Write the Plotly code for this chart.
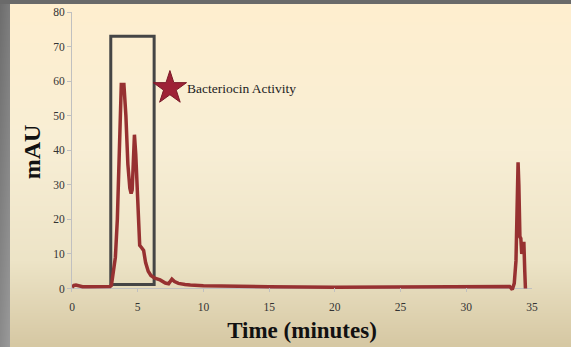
import base64, zlib, struct
import numpy as np
import plotly.graph_objects as go

# ---------------- data ----------------
time_min = [0.0, 0.15, 0.3, 0.5, 0.8, 1.2, 1.6, 2.0, 2.5, 2.9, 3.0, 3.1, 3.2, 3.3, 3.45, 3.6,
            3.75, 3.95, 4.1, 4.25, 4.4, 4.5, 4.58, 4.66, 4.75, 4.85, 4.95, 5.05, 5.15, 5.3,
            5.45, 5.6, 5.8, 6.0, 6.3, 6.7, 7.1, 7.35, 7.6, 7.8, 8.1, 8.6, 9.0, 10.0, 12.0,
            15.0, 20.0, 25.0, 30.0, 33.0, 33.3, 33.5, 33.65, 33.78, 33.88, 33.94, 34.0,
            34.08, 34.15, 34.22, 34.3, 34.38, 34.45, 34.5]
mau = [0.4, 0.9, 1.0, 0.7, 0.5, 0.5, 0.5, 0.4, 0.5, 0.6, 0.9, 3.5, 6.5, 9.0, 20.0, 40.0,
       59.0, 59.0, 50.0, 36.0, 29.0, 27.5, 28.5, 36.0, 44.5, 39.0, 28.0, 18.0, 12.5, 11.8,
       11.0, 7.5, 5.0, 3.8, 3.0, 2.5, 1.6, 1.4, 2.7, 2.0, 1.5, 1.2, 1.0, 0.8, 0.6,
       0.5, 0.4, 0.4, 0.4, 0.5, 0.6, -0.3, 1.5, 8.0, 25.0, 36.5, 30.0,
       15.0, 14.5, 10.0, 12.0, 13.5, 5.0, 0.0]

x_ticks = [0, 5, 10, 15, 20, 25, 30, 35]
y_ticks = [0, 10, 20, 30, 40, 50, 60, 70, 80]

box_time = [2.95, 6.25]      # highlighted fraction (minutes)
box_mau = [1.2, 73.0]
star_time = [7.45]
star_mau = [58.0]
star_label = "Bacteriocin Activity"

# ---------------- background image ----------------
W, H = 571, 347
stops_y = [0, 150, 260, 346]
stops_c = [(255, 239, 207), (248, 238, 213), (237, 228, 199), (214, 200, 163)]
img = np.zeros((H, W, 3), dtype=float)
for ch in range(3):
    col = np.interp(np.arange(H), stops_y, [c[ch] for c in stops_c])
    img[:, :, ch] = col[:, None]
img[:4, :, :] = 106
xs = np.arange(10)[None, :]
left = 110 + (np.arange(H)[:, None] / H) * 30 + xs * 1.5
img[:, :10, :] = left[:, :, None]
img[:4, :10, :] = 106
img = np.clip(img, 0, 255).astype(np.uint8)

raw = b"".join(b"\x00" + img[r].tobytes() for r in range(H))
def chunk(t, d):
    c = struct.pack(">I", len(d)) + t + d
    return c + struct.pack(">I", zlib.crc32(t + d) & 0xffffffff)
png = b"\x89PNG\r\n\x1a\n" + chunk(b"IHDR", struct.pack(">IIBBBBB", W, H, 8, 2, 0, 0, 0)) \
      + chunk(b"IDAT", zlib.compress(raw, 9)) + chunk(b"IEND", b"")
bg_src = "data:image/png;base64," + base64.b64encode(png).decode()

# ---------------- figure ----------------
L, R, T, B = 72, 39, 12, 55
pw, ph = W - L - R, H - T - B

fig = go.Figure()
fig.add_trace(go.Scatter(x=time_min, y=mau, mode="lines",
                         line=dict(color="#973131", width=3.5), hoverinfo="skip"))
fig.add_trace(go.Scatter(x=star_time, y=star_mau, mode="markers",
                         marker=dict(symbol="star", size=25, color="#9E2236",
                                     line=dict(color="#7a1a28", width=1)),
                         cliponaxis=False, hoverinfo="skip"))
fig.add_annotation(x=star_time[0], y=star_mau[0], xref="x", yref="y", text=star_label,
                   showarrow=False, xanchor="left", yanchor="middle", xshift=15,
                   font=dict(family="Liberation Serif", size=13.5, color="#222"))

fig.add_shape(type="rect", xref="x", yref="y", x0=box_time[0], x1=box_time[1],
              y0=box_mau[0], y1=box_mau[1], line=dict(color="#454545", width=3),
              fillcolor="rgba(0,0,0,0)", layer="below")

fig.add_layout_image(dict(source=bg_src, xref="paper", yref="paper",
                          x=-L / pw, y=1 + T / ph, sizex=W / pw, sizey=H / ph,
                          xanchor="left", yanchor="top", sizing="stretch", layer="below"))

axis_font = dict(family="Liberation Serif", size=11.5, color="#333")
fig.update_layout(
    width=W, height=H,
    margin=dict(l=L, r=R, t=T, b=B, pad=0, autoexpand=False),
    paper_bgcolor="#f3ead5", plot_bgcolor="rgba(0,0,0,0)",
    showlegend=False,
    xaxis=dict(range=[0, 35], tickvals=x_ticks, ticktext=[str(v) for v in x_ticks],
               showgrid=False, zeroline=False, showline=False, automargin=False,
               ticks="inside", ticklen=4, tickcolor="#c0c0c0", tickfont=axis_font,
               ticklabelstandoff=6,
               title=dict(text="<b>Time (minutes)</b>", standoff=10,
                          font=dict(family="Liberation Serif", size=23, color="#111"))),
    yaxis=dict(range=[-1, 80], tickvals=y_ticks, ticktext=[str(v) for v in y_ticks],
               showgrid=False, zeroline=True, zerolinecolor="#c0c0c0", zerolinewidth=1,
               showline=True, linecolor="#c0c0c0", linewidth=1, automargin=False,
               ticks="outside", ticklen=4, tickcolor="#c0c0c0", tickfont=axis_font,
               title=dict(text="<b>mAU</b>", standoff=5,
                          font=dict(family="Liberation Serif", size=24, color="#111"))),
)

fig.write_html("out.html", config={"displayModeBar": False},
               post_script="document.body.style.margin='0';document.body.style.overflow='hidden';")
